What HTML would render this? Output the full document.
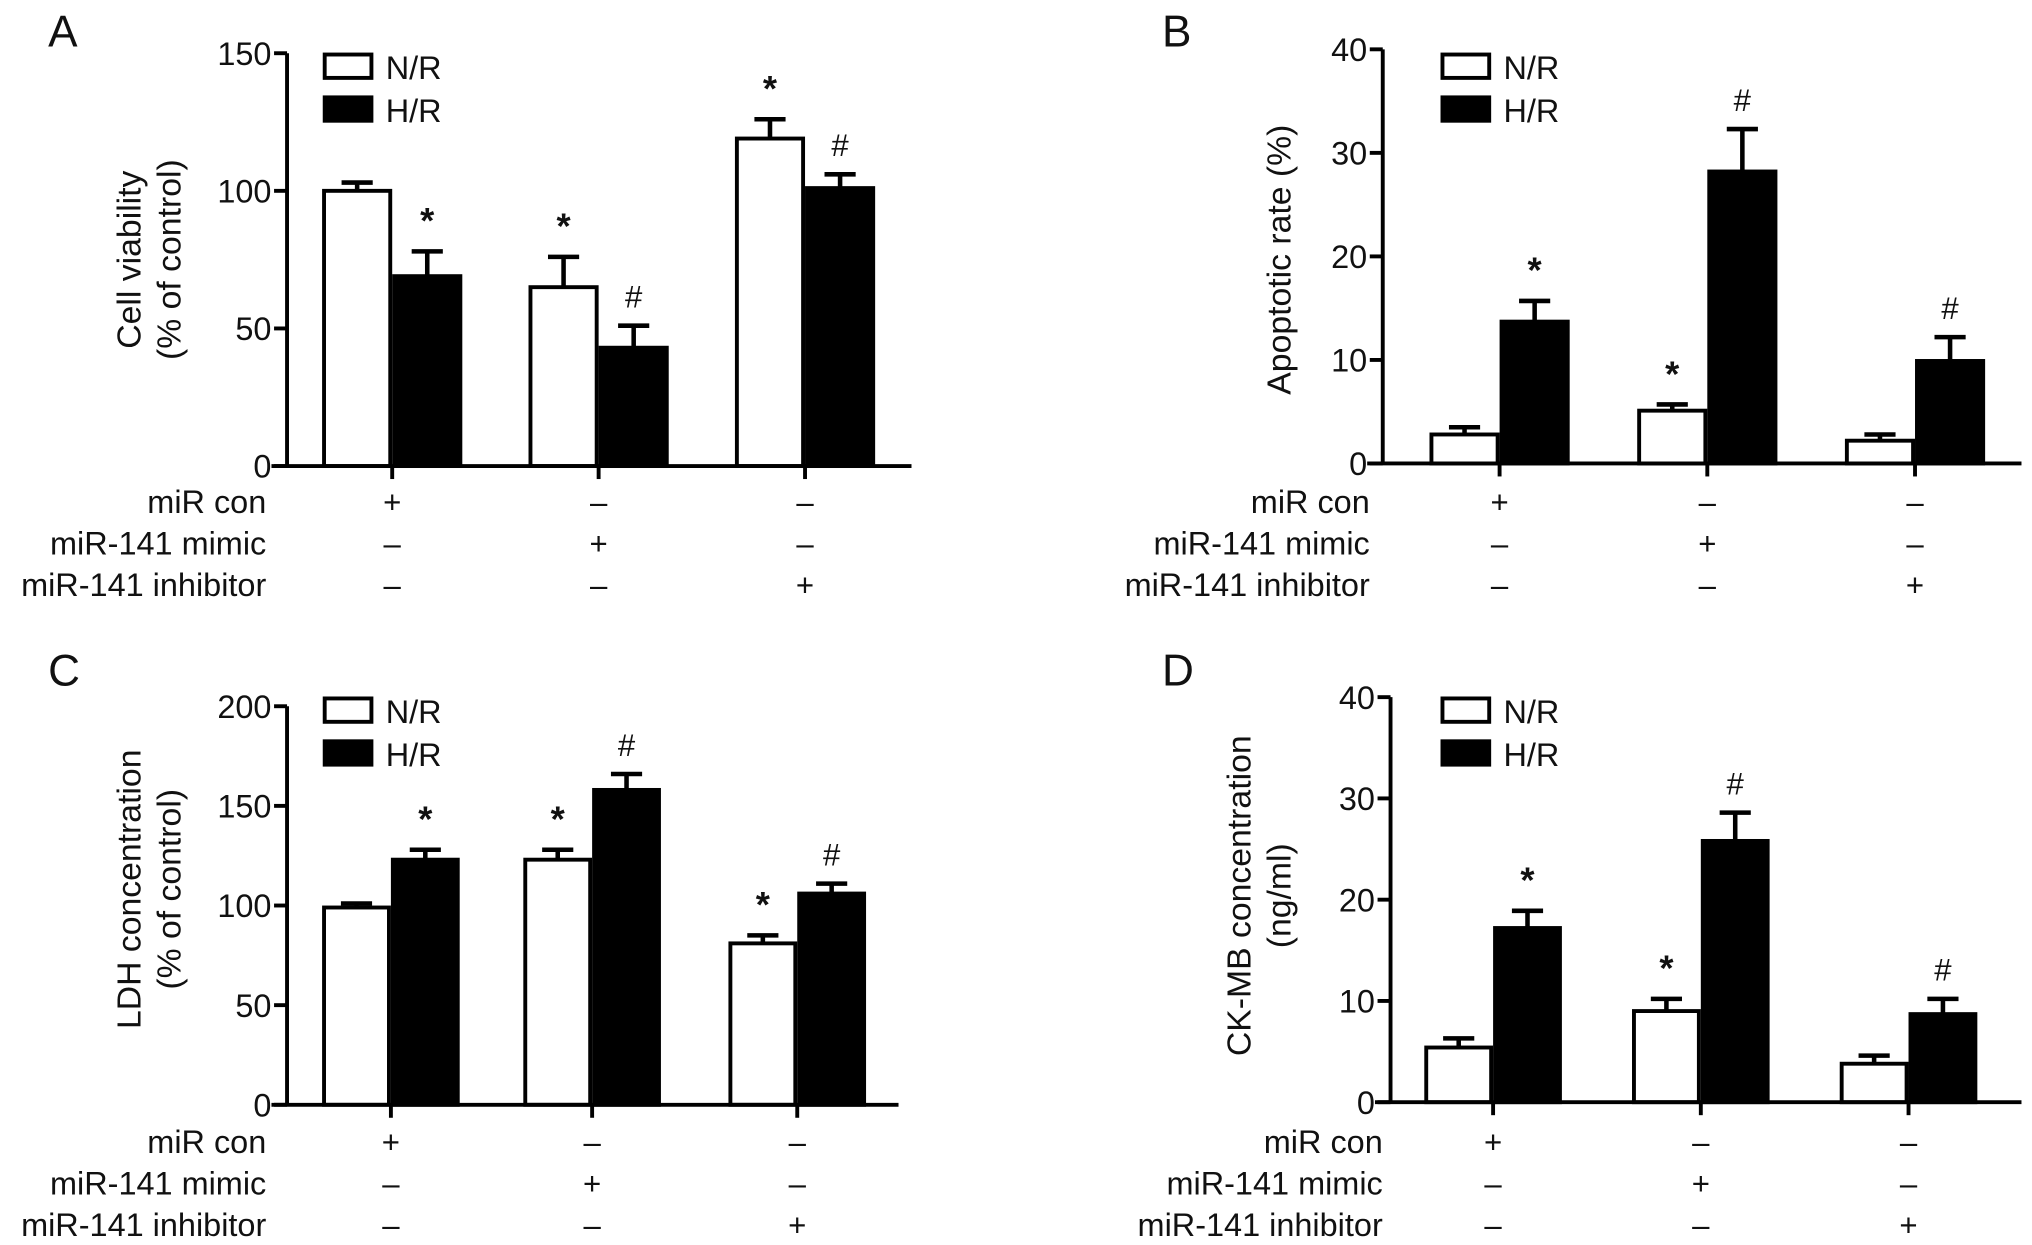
<!DOCTYPE html>
<html><head><meta charset="utf-8"><style>
html,body{margin:0;padding:0;background:#fff}
svg{display:block}
text{font-family:"Liberation Sans",sans-serif;fill:#111}
</style></head><body>
<svg id="fig" width="2032" height="1245" viewBox="0 0 1565 959" xmlns="http://www.w3.org/2000/svg"></svg>
<script>
const seriesNames = ["N/R", "H/R"];
const rowLabels = ["miR con", "miR-141 mimic", "miR-141 inhibitor"];
const signs = [["+","–","–"],["–","+","–"],["–","–","+"]];
// Panel A
const aTicks = [0, 50, 100, 150];
const aNR = [100, 65, 119];
const aNRerr = [3, 11, 7];
const aHR = [69, 43, 101];
const aHRerr = [9, 8, 5];
const aNRmark = ["", "*", "*"];
const aHRmark = ["*", "#", "#"];
// Panel B
const bTicks = [0, 10, 20, 30, 40];
const bNR = [2.8, 5.1, 2.2];
const bNRerr = [0.7, 0.6, 0.6];
const bHR = [13.7, 28.2, 9.9];
const bHRerr = [2.0, 4.1, 2.3];
const bNRmark = ["", "*", ""];
const bHRmark = ["*", "#", "#"];
// Panel C
const cTicks = [0, 50, 100, 150, 200];
const cNR = [99, 123, 81];
const cNRerr = [2, 5, 4];
const cHR = [123, 158, 106];
const cHRerr = [5, 8, 5];
const cNRmark = ["", "*", "*"];
const cHRmark = ["*", "#", "#"];
// Panel D
const dTicks = [0, 10, 20, 30, 40];
const dNR = [5.4, 9.0, 3.8];
const dNRerr = [0.9, 1.2, 0.8];
const dHR = [17.2, 25.8, 8.7];
const dHRerr = [1.7, 2.8, 1.5];
const dNRmark = ["", "*", ""];
const dHRmark = ["*", "#", "#"];

const svg = document.getElementById('fig');
const NS = "http://www.w3.org/2000/svg";
function mk(tag, attrs, parent) {
  const e = document.createElementNS(NS, tag);
  for (const k in attrs) e.setAttribute(k, attrs[k]);
  (parent || svg).appendChild(e);
  return e;
}
function txt(str, attrs, parent) { const t = mk('text', attrs, parent); t.textContent = str; return t; }

function panel(p) {
  const g = mk('g', {});
  
  
  const ymax = p.ticks[p.ticks.length - 1];
  const yS = v => p.y0 - (v / ymax) * (p.y0 - p.yTop);
  const L = txt(p.letter, {x: p.letterX, y: p.letterY, 'font-size': 34}, g);
  
  
  const bw = p.bw;
  p.groups.forEach((cx, i) => {
    [[p.nr, p.nrErr, p.nrMark, cx - bw, '#fff', 'nr'], [p.hr, p.hrErr, p.hrMark, cx, '#000', 'hr']].forEach(s => {
      const v = s[0][i], e = s[1][i], x = s[3];
      const ex = x + bw / 2, ey = yS(v + e);
      const eb = mk('path', {d: `M${ex},${yS(v)}V${ey}M${ex - 12},${ey}H${ex + 12}`, stroke: '#000', 'stroke-width': 3.5, fill: 'none'}, g);
      
      
      const r = mk('rect', {x: x + 1.5, y: yS(v), width: bw - 3, height: p.y0 - yS(v), fill: s[4], stroke: '#000', 'stroke-width': 3}, g);
      
      
      if (s[2][i]) {
        const m = txt(s[2][i], {x: ex, y: ey - 14, 'text-anchor': 'middle', 'font-size': s[2][i] === '*' ? 28 : 24, 'font-weight': s[2][i] === '*' ? 'bold' : 'normal'}, g);
        
        
      }
    });
    const tk = mk('line', {x1: cx, x2: cx, y1: p.y0, y2: p.y0 + 10, stroke: '#000', 'stroke-width': 3}, g);
    
    
  });
  const ax = mk('path', {d: `M${p.x0},${p.yTop}V${p.y0}M${p.x0 - 12},${p.y0}H${p.xEnd}`, stroke: '#000', 'stroke-width': 3, fill: 'none'}, g);
  
  
  p.ticks.forEach(t => {
    const y = yS(t);
    const l = mk('line', {x1: p.x0 - 10, x2: p.x0, y1: y, y2: y, stroke: '#000', 'stroke-width': 3}, g);
    
    
    const tl = txt(String(t), {x: p.x0 - 12, y: y + 9, 'text-anchor': 'end', 'font-size': 25}, g);
    
    
  });
  const yt = txt('', {transform: `translate(${p.ytX},${p.ytY}) rotate(-90)`, 'text-anchor': 'middle', 'font-size': 26}, g);
  
  
  p.ytitle.forEach((line, k) => {
    const ts = mk('tspan', {x: 0, dy: k === 0 ? 0 : 31}, yt);
    ts.textContent = line;
  });
  seriesNames.forEach((n, k) => {
    const ly = p.legY + k * 33;
    const lr = mk('rect', {x: p.legX, y: ly, width: 36, height: 18, fill: k ? '#000' : '#fff', stroke: '#000', 'stroke-width': 3}, g);
    
    
    const lt = txt(n, {x: p.legX + 47, y: ly + 19, 'font-size': 25}, g);
    
    
  });
  rowLabels.forEach((r, k) => {
    const ry = p.rowY + k * 32;
    const rl = txt(r, {x: p.rowX, y: ry + 9, 'text-anchor': 'end', 'font-size': 25}, g);
    
    
    p.groups.forEach((cx, i) => {
      const s = txt(signs[k][i], {x: cx, y: ry + 9, 'text-anchor': 'middle', 'font-size': 24}, g);
      
      
    });
  });
}

panel({letter:'A', letterX:37, letterY:36, x0:221, yTop:41, y0:359, xEnd:702, bw:54, groups:[302,461,620],
  ticks:aTicks, nr:aNR, nrErr:aNRerr, hr:aHR, hrErr:aHRerr, nrMark:aNRmark, hrMark:aHRmark,
  ytitle:['Cell viability','(% of control)'], ytX:108, ytY:200, legX:250, legY:42, rowX:205, rowY:386});
panel({letter:'B', letterX:895, letterY:36, x0:1065, yTop:38, y0:357, xEnd:1557, bw:54, groups:[1155,1315,1475],
  ticks:bTicks, nr:bNR, nrErr:bNRerr, hr:bHR, hrErr:bHRerr, nrMark:bNRmark, hrMark:bHRmark,
  ytitle:['Apoptotic rate (%)'], ytX:994, ytY:200, legX:1111, legY:42, rowX:1055, rowY:386});
panel({letter:'C', letterX:37, letterY:528, x0:221, yTop:544, y0:851, xEnd:692, bw:53, groups:[301,456,614],
  ticks:cTicks, nr:cNR, nrErr:cNRerr, hr:cHR, hrErr:cHRerr, nrMark:cNRmark, hrMark:cHRmark,
  ytitle:['LDH concentration','(% of control)'], ytX:108, ytY:685, legX:250, legY:538, rowX:205, rowY:879});
panel({letter:'D', letterX:895, letterY:528, x0:1071, yTop:537, y0:849, xEnd:1557, bw:53, groups:[1150,1310,1470],
  ticks:dTicks, nr:dNR, nrErr:dNRerr, hr:dHR, hrErr:dHRerr, nrMark:dNRmark, hrMark:dHRmark,
  ytitle:['CK-MB concentration','(ng/ml)'], ytX:963, ytY:690, legX:1111, legY:538, rowX:1065, rowY:879});
</script>
</body></html>
